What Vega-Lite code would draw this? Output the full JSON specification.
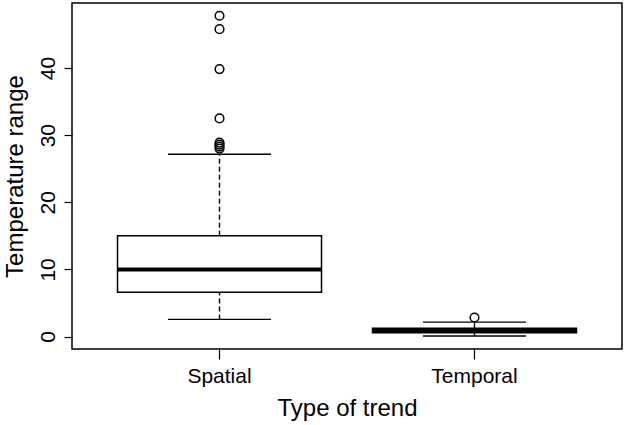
{
  "$schema": "https://vega.github.io/schema/vega-lite/v6.json",
  "width": 550,
  "height": 346,
  "autosize": {"type": "none"},
  "padding": {"left": 72, "top": 3, "right": 3, "bottom": 76},
  "background": "white",
  "config": {
    "font": "Liberation Sans",
    "view": {"stroke": "black", "strokeWidth": 1.5},
    "axis": {"grid": false, "domain": false, "tickColor": "black", "labelColor": "black", "titleColor": "black", "titleFontWeight": "normal", "labelFontSize": 21, "titleFontSize": 24, "tickWidth": 1.2}
  },
  "datasets": {
    "stats": [
      {"trend": "Spatial", "lower": 2.55, "q1": 6.6, "median": 10.0, "q3": 15.0, "upper": 27.15},
      {"trend": "Temporal", "lower": 0.08, "q1": 0.55, "median": 0.85, "q3": 1.25, "upper": 2.15}
    ],
    "outliers": [
      {"trend": "Spatial", "value": 47.8},
      {"trend": "Spatial", "value": 45.8},
      {"trend": "Spatial", "value": 39.85},
      {"trend": "Spatial", "value": 32.5},
      {"trend": "Spatial", "value": 28.9},
      {"trend": "Spatial", "value": 28.6},
      {"trend": "Spatial", "value": 28.3},
      {"trend": "Spatial", "value": 28.0},
      {"trend": "Temporal", "value": 2.83}
    ]
  },
  "layer": [
    {
      "data": {"name": "stats"},
      "mark": {"type": "rule", "strokeDash": [5, 3], "color": "black", "strokeWidth": 1.4},
      "encoding": {
        "x": {"field": "trend", "type": "nominal", "sort": ["Spatial", "Temporal"],
          "scale": {"type": "band", "paddingInner": 0.2, "paddingOuter": 0.1785},
          "axis": {"title": "Type of trend", "labelAngle": 0, "tickSize": 10, "labelPadding": 6, "titlePadding": 10, "bandPosition": 0.5}},
        "y": {"field": "q3", "type": "quantitative",
          "scale": {"domain": [-1.86, 49.7], "nice": false, "zero": false},
          "axis": {"title": "Temperature range", "values": [0, 10, 20, 30, 40], "labelAngle": -90, "tickSize": 8, "labelPadding": 6, "titlePadding": 10}},
        "y2": {"field": "upper"}
      }
    },
    {
      "data": {"name": "stats"},
      "mark": {"type": "rule", "strokeDash": [5, 3], "color": "black", "strokeWidth": 1.4},
      "encoding": {
        "x": {"field": "trend", "type": "nominal", "sort": ["Spatial", "Temporal"]},
        "y": {"field": "lower", "type": "quantitative"},
        "y2": {"field": "q1"}
      }
    },
    {
      "data": {"name": "stats"},
      "mark": {"type": "bar", "fill": "white", "stroke": "black", "strokeWidth": 1.5},
      "encoding": {
        "x": {"field": "trend", "type": "nominal", "sort": ["Spatial", "Temporal"]},
        "y": {"field": "q1", "type": "quantitative"},
        "y2": {"field": "q3"}
      }
    },
    {
      "data": {"name": "stats"},
      "mark": {"type": "tick", "color": "black", "size": 204, "thickness": 4, "opacity": 1},
      "encoding": {
        "x": {"field": "trend", "type": "nominal", "sort": ["Spatial", "Temporal"]},
        "y": {"field": "median", "type": "quantitative"}
      }
    },
    {
      "data": {"name": "stats"},
      "mark": {"type": "tick", "color": "black", "size": 103, "thickness": 1.4, "opacity": 1},
      "encoding": {
        "x": {"field": "trend", "type": "nominal", "sort": ["Spatial", "Temporal"]},
        "y": {"field": "upper", "type": "quantitative"}
      }
    },
    {
      "data": {"name": "stats"},
      "mark": {"type": "tick", "color": "black", "size": 103, "thickness": 1.4, "opacity": 1},
      "encoding": {
        "x": {"field": "trend", "type": "nominal", "sort": ["Spatial", "Temporal"]},
        "y": {"field": "lower", "type": "quantitative"}
      }
    },
    {
      "data": {"name": "outliers"},
      "mark": {"type": "point", "shape": "circle", "filled": false, "stroke": "black", "strokeWidth": 1.5, "size": 75, "opacity": 1},
      "encoding": {
        "x": {"field": "trend", "type": "nominal", "sort": ["Spatial", "Temporal"]},
        "y": {"field": "value", "type": "quantitative"}
      }
    }
  ]
}
